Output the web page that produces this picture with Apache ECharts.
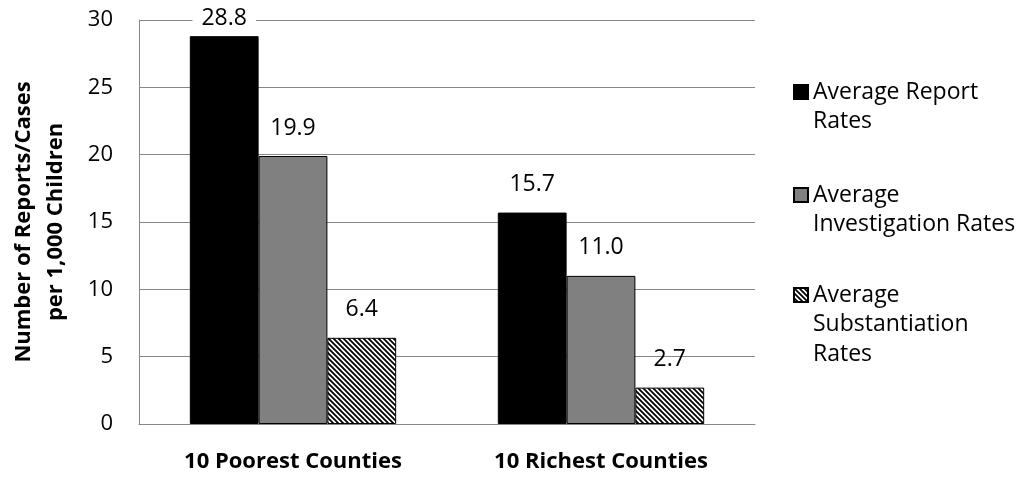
<!DOCTYPE html>
<html>
<head>
<meta charset="utf-8">
<script src="https://cdn.jsdelivr.net/npm/echarts@6/dist/echarts.min.js"></script>
<style>
  html, body { margin: 0; padding: 0; background: #fff; }
  #chart { width: 1023px; height: 477px; }
</style>
</head>
<body>
<div id="chart"></div>
<script>
// County groups on the category axis
const categories = ['10 Poorest Counties', '10 Richest Counties'];

// Rates per 1,000 children
const reportRates = [28.8, 15.7];
const investigationRates = [19.9, 11.0];
const substantiationRates = [6.4, 2.7];

// Series names (legend entries, wrapped as shown)
const seriesNames = ['Average Report\nRates', 'Average\nInvestigation Rates', 'Average\nSubstantiation\nRates'];

// Value axis
const yMin = 0, yMax = 30, yStep = 5;

const FONT = '"Open Sans", "Noto Sans", sans-serif';
const GRID_COLOR = '#888888';

// Diagonal hatch fill for the substantiation bars
function makeHatch() {
  const c = document.createElement('canvas');
  const s = 5;
  c.width = s; c.height = s;
  const ctx = c.getContext('2d');
  ctx.fillStyle = '#ffffff';
  ctx.fillRect(0, 0, s, s);
  ctx.strokeStyle = '#000000';
  ctx.lineWidth = 1.8;
  ctx.beginPath();
  ctx.moveTo(-1, -1); ctx.lineTo(s + 1, s + 1);
  ctx.moveTo(-1, s - 1); ctx.lineTo(1, s + 1);
  ctx.moveTo(s - 1, -1); ctx.lineTo(s + 1, 1);
  ctx.stroke();
  return c;
}
const hatch = { image: makeHatch(), repeat: 'repeat' };

const labelBase = {
  show: true,
  position: 'top',
  distance: 14,
  fontFamily: FONT,
  fontSize: 23,
  lineHeight: 28,
  color: '#000',
  formatter: p => p.value.toFixed(1)
};

// One legend block per series; the swatch path carries an empty tail so the
// square lines up with the first line of a wrapped name.
const LINE_H = 29.5;
const SWATCH = 14;
function legendBlock(name, lines, swatchCenterY) {
  // item height so that the text block's first line is centred on the swatch
  const itemH = SWATCH + (lines - 1) * LINE_H;
  const textTop = itemH / 2 - lines * LINE_H / 2;
  const top = swatchCenterY - SWATCH / 2 + Math.min(0, textTop);
  return {
    orient: 'vertical',
    left: 793,
    top: top,
    padding: 0,
    itemWidth: SWATCH,
    itemHeight: itemH,
    selectedMode: false,
    data: [{
      name: name,
      icon: 'path://M0,0H' + SWATCH + 'V' + SWATCH + 'H0Z M0,' + itemH + 'L0,' + itemH + 'Z'
    }],
    textStyle: {
      fontFamily: FONT,
      fontSize: 23,
      lineHeight: LINE_H,
      color: '#000'
    }
  };
}

const chart = echarts.init(document.getElementById('chart'), null, { renderer: 'canvas' });

chart.setOption({
  animation: false,
  backgroundColor: '#ffffff',
  grid: {
    left: 139, right: 268, top: 20, bottom: 53,
    containLabel: false,
    outerBoundsMode: 'none'
  },
  legend: [
    legendBlock(seriesNames[0], 2, 92),
    legendBlock(seriesNames[1], 2, 195),
    legendBlock(seriesNames[2], 3, 295)
  ],
  xAxis: {
    type: 'category',
    data: categories,
    axisLine: { show: true, lineStyle: { color: GRID_COLOR, width: 1 } },
    axisTick: { show: false },
    axisLabel: {
      margin: 27,
      fontFamily: FONT,
      fontSize: 22,
      fontWeight: 'bold',
      color: '#000'
    }
  },
  yAxis: {
    type: 'value',
    min: yMin,
    max: yMax,
    interval: yStep,
    name: 'Number of Reports/Cases\nper 1,000 Children',
    nameLocation: 'middle',
    nameRotate: 90,
    nameGap: 67,
    nameTextStyle: {
      fontFamily: FONT,
      fontSize: 22,
      fontWeight: 'bold',
      lineHeight: 32,
      color: '#000'
    },
    axisLine: { show: true, lineStyle: { color: GRID_COLOR, width: 1 } },
    axisTick: { show: false },
    splitLine: { show: true, lineStyle: { color: GRID_COLOR, width: 1 } },
    axisLabel: {
      margin: 26,
      fontFamily: FONT,
      fontSize: 22,
      color: '#000'
    }
  },
  // keep value labels inside the top edge of the chart
  labelLayout: function (params) {
    const minTop = 4;
    if (params.labelRect && params.labelRect.y < minTop) {
      return { dy: minTop - params.labelRect.y };
    }
    return {};
  },
  series: [
    {
      name: seriesNames[0],
      type: 'bar',
      data: reportRates,
      barGap: '0%',
      barCategoryGap: '33%',
      itemStyle: { color: '#000000', borderColor: '#000000', borderWidth: 1 },
      label: Object.assign({}, labelBase, { backgroundColor: '#ffffff', padding: [0, 9] })
    },
    {
      name: seriesNames[1],
      type: 'bar',
      data: investigationRates,
      barGap: '0%',
      barCategoryGap: '33%',
      itemStyle: { color: '#808080', borderColor: '#000000', borderWidth: 1 },
      label: labelBase
    },
    {
      name: seriesNames[2],
      type: 'bar',
      data: substantiationRates,
      barGap: '0%',
      barCategoryGap: '33%',
      itemStyle: { color: hatch, borderColor: '#000000', borderWidth: 1 },
      label: labelBase
    }
  ]
});
</script>
</body>
</html>
